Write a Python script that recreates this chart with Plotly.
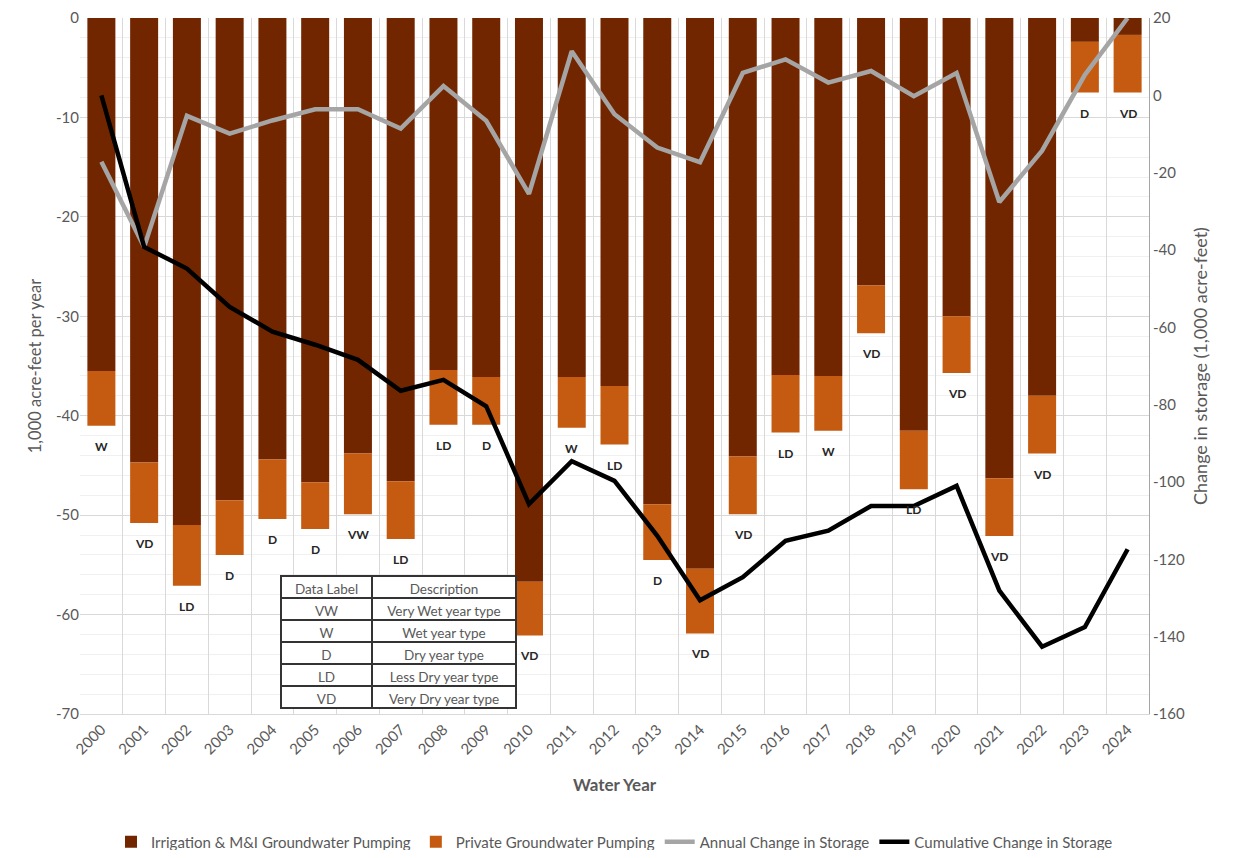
import plotly.graph_objects as go

years = [str(y) for y in range(2000, 2025)]

# Irrigation & M&I groundwater pumping (1,000 AF, negative)
irrigation = [-35.5, -44.7, -51.0, -48.5, -44.4, -46.7, -43.8, -46.6, -35.4, -36.1,
              -56.7, -36.1, -37.0, -48.9, -55.4, -44.1, -35.9, -36.0, -26.9, -41.5,
              -30.0, -46.3, -38.0, -2.4, -1.7]
# Total (irrigation + private) pumping
total = [-41.0, -50.8, -57.1, -54.0, -50.4, -51.4, -49.9, -52.4, -40.9, -40.9,
         -62.1, -41.2, -42.9, -54.5, -61.9, -49.9, -41.7, -41.5, -31.7, -47.4,
         -35.7, -52.1, -43.8, -7.5, -7.5]
private = [round(t - i, 2) for t, i in zip(total, irrigation)]

annual_change = [-17.2, -39.2, -5.3, -9.9, -6.5, -3.6, -3.6, -8.6, 2.4, -6.6,
                 -25.5, 11.4, -4.9, -13.5, -17.3, 5.8, 9.3, 3.3, 6.3, -0.2,
                 5.8, -27.6, -14.3, 5.3, 20.0]
cumulative_change = [0.0, -39.2, -44.8, -54.7, -61.1, -64.5, -68.4, -76.4, -73.6, -80.4,
                     -105.7, -94.6, -99.7, -113.9, -130.6, -124.6, -115.2, -112.6, -106.2, -106.2,
                     -101.0, -128.1, -142.6, -137.5, -117.4]

year_type = ["W", "VD", "LD", "D", "D", "D", "VW", "LD", "LD", "D",
             "VD", "W", "LD", "D", "VD", "VD", "LD", "W", "VD", "LD",
             "VD", "VD", "VD", "D", "VD"]

table_labels = ["VW", "W", "D", "LD", "VD"]
table_desc = ["Very Wet year type", "Wet year type", "Dry year type",
              "Less Dry year type", "Very Dry year type"]

left_ticks = [0, -10, -20, -30, -40, -50, -60, -70]
right_ticks = [20, 0, -20, -40, -60, -80, -100, -120, -140, -160]

FONT = "Lato"
GRAY = "#595959"

PLOT_H = 842 - 10 - 136

fig = go.Figure()
fig.add_trace(go.Bar(x=years, y=irrigation, name="Irrigation & M&I Groundwater Pumping",
                     marker=dict(color="#722600", line=dict(width=0))))
fig.add_trace(go.Bar(x=years, y=private, name="Private Groundwater Pumping",
                     marker=dict(color="#C55A11", line=dict(width=0))))
fig.add_trace(go.Scatter(x=years, y=annual_change, name="Annual Change in Storage",
                         mode="lines", line=dict(color="#A5A5A5", width=4.5), yaxis="y2"))
fig.add_trace(go.Scatter(x=years, y=cumulative_change, name="Cumulative Change in Storage",
                         mode="lines", line=dict(color="#000000", width=4.5), yaxis="y2"))

fig.add_trace(go.Table(
    domain=dict(x=[(281 - 80) / 1069, (516 - 80) / 1069], y=[0.0, 138 / PLOT_H]),
    columnwidth=[91, 144],
    header=dict(values=["Data Label", "Description"], height=22,
                fill_color="white", line=dict(color="#333333", width=1.5),
                font=dict(family=FONT, size=13.5, color=GRAY), align="center"),
    cells=dict(values=[table_labels, table_desc], height=22,
               fill_color="white", line=dict(color="#333333", width=1.5),
               font=dict(family=FONT, size=13.5, color=GRAY), align="center"),
))

for i, (t, lab) in enumerate(zip(total, year_type)):
    fig.add_annotation(x=i, y=t, text="<b>" + lab + "</b>", showarrow=False,
                       yanchor="top", yshift=-11, xref="x", yref="y",
                       font=dict(family=FONT, size=12, color="#262626"))

fig.update_layout(
    width=1226, height=842,
    margin=dict(l=72, r=85, t=10, b=136, autoexpand=False),
    barmode="relative", bargap=0.345,
    plot_bgcolor="white", paper_bgcolor="white",
    font=dict(family=FONT, color=GRAY),
    showlegend=True,
    legend=dict(orientation="h", x=0.5, xanchor="center", y=-128 / PLOT_H, yanchor="middle",
                font=dict(family=FONT, size=15, color=GRAY), traceorder="normal"),
    xaxis=dict(type="category", range=[-0.5, 24.5], autorange=False, automargin=False,
               tickangle=-45, tickson="boundaries", ticklabeloverflow="allow",
               showgrid=True, gridcolor="#D9D9D9", gridwidth=1,
               ticks="", tickfont=dict(family=FONT, size=15, color=GRAY),
               showline=True, linecolor="#D9D9D9",
               title=dict(text="<b>Water Year</b>", font=dict(family=FONT, size=17, color=GRAY),
                          standoff=22)),
    yaxis=dict(range=[-70, 0], tickvals=left_ticks, ticktext=[str(v) for v in left_ticks],
               automargin=False, ticklabeloverflow="allow",
               showgrid=True, gridcolor="#D9D9D9", gridwidth=1,
               minor=dict(dtick=2, showgrid=True, gridcolor="#F0F0F0"),
               zeroline=False, ticks="", tickfont=dict(family=FONT, size=15, color=GRAY),
               title=dict(text="1,000 acre-feet per year", font=dict(family=FONT, size=16.5, color=GRAY),
                          standoff=10)),
    yaxis2=dict(range=[-160, 20], tickvals=right_ticks, ticktext=[str(v) for v in right_ticks],
                automargin=False, ticklabeloverflow="allow",
                overlaying="y", side="right", showgrid=False,
                zeroline=False, showline=True, linecolor="#A6A6A6", ticks="",
                tickfont=dict(family=FONT, size=15, color=GRAY),
                title=dict(text="Change in storage (1,000 acre-feet)",
                           font=dict(family=FONT, size=18, color=GRAY), standoff=10)),
)

fig.write_html("out.html")
